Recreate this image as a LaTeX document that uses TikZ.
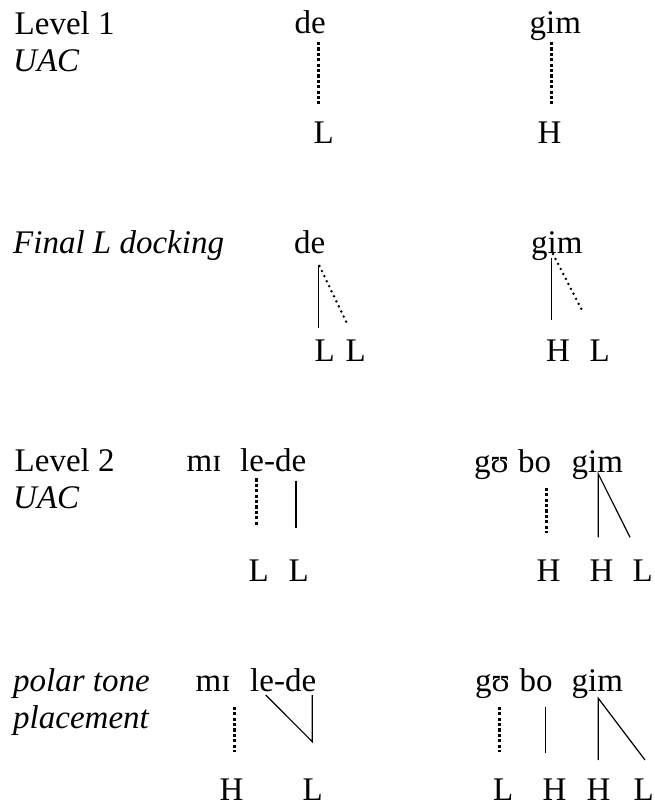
\documentclass[tikz,border=0pt]{standalone}
\usepackage{fontspec}
\setmainfont{Liberation Serif}
\usepackage{tikz}
\usetikzlibrary{positioning}

\tikzset{
  syl/.style={anchor=base west,inner sep=0pt},
  lab/.style={anchor=base west,inner sep=0pt,font=\fontsize{33}{40}\selectfont\itshape},
  link/.style={line width=1.2pt},
  floatlink/.style={line width=3pt,dash pattern=on 3.2pt off 2.2pt},
  spreadlink/.style={line width=2.7pt,line cap=round,dash pattern=on 0pt off 5.6pt}
}

\begin{document}
\begin{tikzpicture}[x=1pt,y=-1pt,font=\fontsize{33}{40}\selectfont]
  \useasboundingbox (0,0) rectangle (654,808);

  % Level 1, UAC
  \node[syl] (lvA) at (14.5,34.3) {Level 1};
  \node[lab] (uacA) at (13,71) {UAC};
  \node[syl] (deA) at (294.5,33.5) {de};
  \node[syl] (gimA) at (529.5,33.5) {gim};
  \node[syl] (tLA) at (313.5,143) {L};
  \node[syl] (tHA) at (537.5,143) {H};
  \coordinate (deAb) at (318.3,42);   \coordinate (tLAt) at (318.3,104);
  \coordinate (gimAb) at (551.7,42);  \coordinate (tHAt) at (551.7,104);
  \draw[floatlink] (deAb) -- (tLAt);
  \draw[floatlink] (gimAb) -- (tHAt);

  % Final L docking
  \node[lab] (dockB) at (13,253.3) {Final L docking};
  \node[syl] (deB) at (294,253.3) {de};
  \node[syl] (gimB) at (531,253.3) {gim};
  \node[syl] (tLB) at (314.5,361.7) {L};
  \node[syl] (tLLB) at (345.5,361.7) {L};
  \node[syl] (tHB) at (546,361.7) {H};
  \node[syl] (tHLB) at (589.5,361.7) {L};
  \coordinate (deBb) at (318.3,265);  \coordinate (tLBt) at (318.3,328.3);
  \coordinate (deBd) at (319.5,266);  \coordinate (tLLBt) at (347.7,325);
  \coordinate (gimBb) at (551.7,258.3); \coordinate (tHBt) at (551.7,320);
  \coordinate (gimBd) at (553,254);   \coordinate (tHLBt) at (582.7,311.7);
  \draw[link] (deBb) -- (tLBt);
  \draw[spreadlink] (deBd) -- (tLLBt);
  \draw[link] (gimBb) -- (tHBt);
  \draw[spreadlink] (gimBd) -- (tHLBt);

  % Level 2, UAC
  \node[syl] (lvC) at (14.5,471.7) {Level 2};
  \node[lab] (uacC) at (13,508.3) {UAC};
  \node[syl] (miC) at (186.5,471.7) {mɪ};
  \node[syl] (ledeC) at (240,471.7) {le-de};
  \node[syl] (guC) at (474,472.7) {gʊ};
  \node[syl] (boC) at (518,472.7) {bo};
  \node[syl] (gimC) at (571.5,472.7) {gim};
  \node[syl] (tLC) at (248.5,581.7) {L};
  \node[syl] (tLLC) at (288.5,581.7) {L};
  \node[syl] (tHC) at (536.5,581.7) {H};
  \node[syl] (tHHC) at (589.5,581.7) {H};
  \node[syl] (tHLC) at (632.5,581.7) {L};
  \coordinate (ledeCl) at (256,478.3); \coordinate (tLCt) at (256,526);
  \coordinate (ledeCr) at (296,480.7); \coordinate (tLLCt) at (296,527.7);
  \coordinate (boCb) at (546,487.7);   \coordinate (tHCt) at (546,533.3);
  \coordinate (gimCb) at (598.3,474);  \coordinate (tHHCt) at (598.3,537.3);
  \coordinate (tHLCt) at (630,537.3);
  \draw[floatlink] (ledeCl) -- (tLCt);
  \draw[link] (ledeCr) -- (tLLCt);
  \draw[floatlink] (boCb) -- (tHCt);
  \draw[link] (tHHCt) -- (gimCb) -- (tHLCt);

  % polar tone placement
  \node[lab] (polD) at (13,691.7) {polar tone};
  \node[lab] (plcD) at (13,728.3) {placement};
  \node[syl] (miD) at (195.5,691.7) {mɪ};
  \node[syl] (ledeD) at (250,691.7) {le-de};
  \node[syl] (guD) at (475,691.7) {gʊ};
  \node[syl] (boD) at (519.5,691.7) {bo};
  \node[syl] (gimD) at (571.5,691.7) {gim};
  \node[syl] (tHD) at (219.5,800) {H};
  \node[syl] (tLD) at (302.5,800) {L};
  \node[syl] (tLgD) at (493,800) {L};
  \node[syl] (tHbD) at (542.5,800) {H};
  \node[syl] (tHHD) at (586.5,800) {H};
  \node[syl] (tHLD) at (633.5,800) {L};
  \coordinate (miDb) at (234,706.7);   \coordinate (tHDt) at (234,751.7);
  \coordinate (ledeDl) at (265.7,695); \coordinate (ledeDr) at (312.3,695);
  \coordinate (tLDt) at (312.3,741.7);
  \coordinate (guDb) at (499,706.7);   \coordinate (tLgDt) at (499,751.7);
  \coordinate (boDb) at (545.7,706.7); \coordinate (tHbDt) at (545.7,753.3);
  \coordinate (gimDb) at (598.3,698.3); \coordinate (tHHDt) at (598.3,760);
  \coordinate (tHLDt) at (645,760);
  \draw[floatlink] (miDb) -- (tHDt);
  \draw[link] (ledeDl) -- (tLDt) -- (ledeDr);
  \draw[floatlink] (guDb) -- (tLgDt);
  \draw[link] (boDb) -- (tHbDt);
  \draw[link] (tHHDt) -- (gimDb) -- (tHLDt);
\end{tikzpicture}
\end{document}
